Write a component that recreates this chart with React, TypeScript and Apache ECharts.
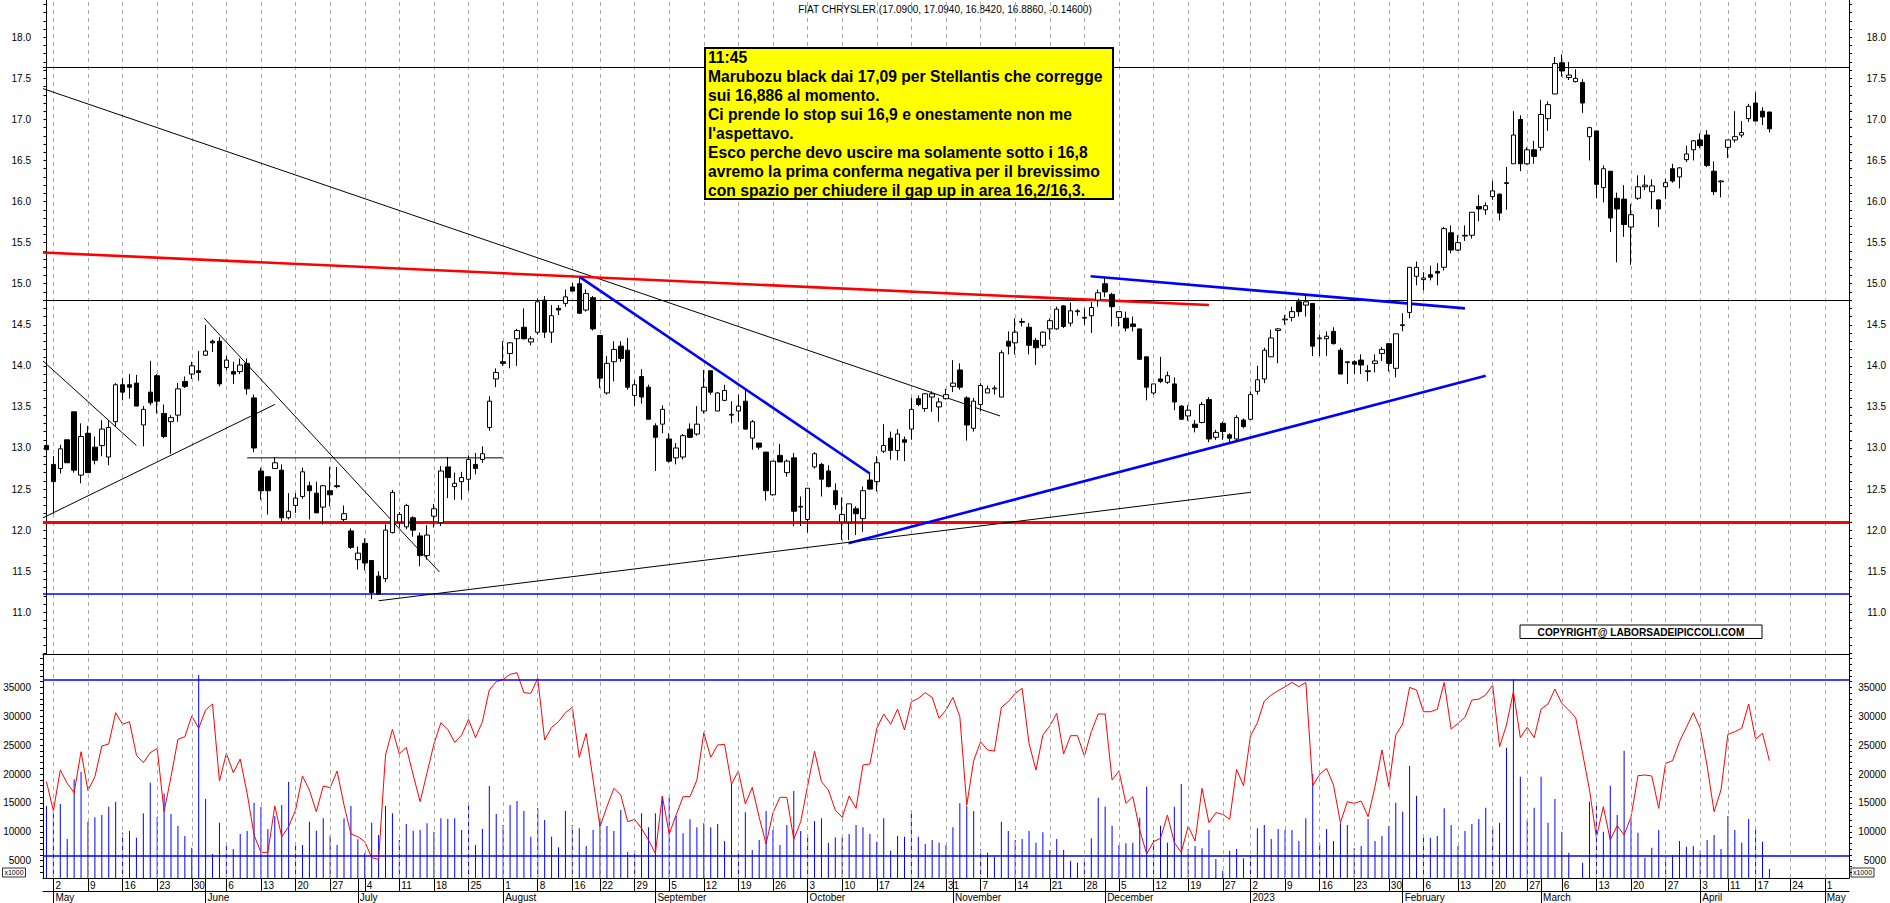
import React, { useEffect, useRef } from "react";
import * as echarts from "echarts";

// ---------- calendar ----------
const FIRST_DAY = [2022, 3, 29];
const LAST_DAY = [2023, 4, 4];
const HOLIDAYS = ["2022-08-15", "2022-12-26", "2023-04-07", "2023-04-10"];
const MONTH_NAMES = ["", "January", "February", "March", "April", "May", "June", "July", "August", "September", "October", "November", "December"];

const TITLE = "FIAT CHRYSLER (17.0900, 17.0940, 16.8420, 16.8860, -0.14600)";
const NOTE_LINES = [
  "11:45",
  "Marubozu black dai 17,09 per Stellantis che corregge",
  "sui 16,886 al momento.",
  "Ci prende lo stop sui 16,9 e onestamente non me",
  "l'aspettavo.",
  "Esco perche devo uscire ma solamente sotto i 16,8",
  "avremo la prima conferma negativa per il brevissimo",
  "con spazio per chiudere il gap up in area 16,2/16,3.",
];
const COPYRIGHT = "COPYRIGHT@ LABORSADEIPICCOLI.COM";

// ---------- price data (from 2022-04-29) ----------
const OPEN = [
  13.03, 12.80, 12.75, 13.10, 13.44, 12.67, 13.18, 13.01, 13.03, 12.89,
  13.32, 13.77, 13.77, 13.79, 13.28, 13.68, 13.88, 13.42, 13.32, 13.40,
  13.81, 13.90, 13.94, 14.13, 14.30, 14.30, 13.98, 13.93, 13.93, 14.03,
  13.61, 12.72, 12.65, 12.75, 12.73, 12.15, 12.30, 12.41, 12.54, 12.45,
  12.28, 12.48, 12.54, 12.13, 11.99, 11.64, 11.84, 11.63, 11.44, 11.41,
  11.97, 12.10, 12.04, 12.15, 11.93, 11.69, 12.17, 12.09, 12.77, 12.53,
  12.59, 12.62, 12.80, 12.86, 13.25, 13.84, 14.05, 14.15, 14.33, 14.47,
  14.29, 14.41, 14.80, 14.41, 14.70, 14.76, 14.96, 15.00, 14.68, 14.83,
  14.37, 13.67, 14.05, 14.24, 14.19, 13.64, 13.87, 13.74, 13.27, 13.29,
  13.11, 12.88, 12.89, 13.23, 13.17, 13.45, 13.94, 13.45, 13.58, 13.40,
  13.45, 13.57, 13.12, 13.06, 12.95, 12.43, 12.91, 12.70, 12.88, 12.28,
  12.13, 12.77, 12.80, 12.72, 12.48, 12.10, 12.10, 12.26, 12.14, 12.61,
  12.59, 12.96, 13.12, 12.97, 13.10, 13.23, 13.60, 13.48, 13.62, 13.50,
  13.60, 13.75, 13.95, 13.61, 13.24, 13.53, 13.67, 13.72, 13.62, 14.30,
  14.28, 14.53, 14.47, 14.31, 14.25, 14.45, 14.45, 14.73, 14.52, 14.66,
  14.58, 14.61, 14.80, 15.00, 14.87, 14.59, 14.58, 14.51, 14.45, 14.11,
  13.67, 13.84, 13.80, 13.78, 13.51, 13.39, 13.29, 13.31, 13.59, 13.13,
  13.30, 13.16, 13.11, 13.34, 13.35, 13.69, 13.84, 14.11, 14.43, 14.56,
  14.59, 14.78, 14.74, 14.76, 14.33, 14.33, 14.42, 14.19, 14.04, 14.05,
  14.07, 13.93, 14.03, 14.15, 14.27, 13.97, 14.49, 14.65, 15.09, 15.05,
  15.11, 15.15, 15.20, 15.62, 15.41, 15.58, 15.59, 15.94, 15.90, 16.06,
  16.09, 16.22, 16.46, 17.00, 16.46, 16.63, 16.66, 17.01, 17.31, 17.69,
  17.51, 17.46, 17.45, 16.79, 16.86, 16.17, 16.37, 16.04, 16.03, 15.69,
  16.04, 16.18, 16.12, 16.02, 16.18, 16.40, 16.30, 16.51, 16.63, 16.75,
  16.81, 16.37, 16.24, 16.66, 16.75, 16.81, 17.01, 17.20, 17.10, 17.09,
];
const CLOSE = [
  12.98, 12.59, 12.99, 12.82, 12.73, 13.14, 12.70, 12.85, 13.23, 13.25,
  13.77, 13.68, 13.74, 13.51, 13.47, 13.55, 13.57, 13.14, 13.37, 13.72,
  13.75, 14.00, 13.92, 14.18, 14.28, 13.78, 14.07, 13.90, 14.01, 13.72,
  13.00, 12.48, 12.48, 12.82, 12.15, 12.23, 12.39, 12.71, 12.48, 12.21,
  12.54, 12.43, 12.53, 12.20, 11.79, 11.72, 11.60, 11.24, 11.22, 12.00,
  12.46, 12.19, 12.30, 12.00, 11.69, 11.94, 12.26, 12.72, 12.64, 12.57,
  12.64, 12.86, 12.75, 12.93, 13.57, 13.92, 14.03, 14.28, 14.43, 14.33,
  14.33, 14.78, 14.41, 14.61, 14.68, 14.84, 14.91, 14.64, 14.88, 14.45,
  13.85, 14.03, 14.20, 14.09, 13.74, 13.77, 13.62, 13.35, 13.13, 13.47,
  12.84, 13.00, 13.15, 13.13, 13.29, 13.74, 13.68, 13.67, 13.70, 13.41,
  13.51, 13.23, 13.32, 13.01, 12.48, 12.84, 12.83, 12.84, 12.23, 12.29,
  12.51, 12.93, 12.62, 12.53, 12.31, 12.19, 12.32, 12.20, 12.48, 12.50,
  12.82, 13.03, 12.97, 13.17, 13.07, 13.47, 13.53, 13.66, 13.66, 13.56,
  13.65, 13.79, 13.74, 13.28, 13.57, 13.76, 13.72, 13.73, 14.16, 14.24,
  14.41, 14.54, 14.25, 14.22, 14.41, 14.55, 14.69, 14.48, 14.67, 14.67,
  14.59, 14.71, 14.89, 14.90, 14.72, 14.66, 14.46, 14.48, 14.08, 13.74,
  13.78, 13.81, 13.88, 13.56, 13.35, 13.46, 13.25, 13.53, 13.11, 13.19,
  13.20, 13.12, 13.37, 13.26, 13.65, 13.83, 14.19, 14.34, 14.45, 14.57,
  14.66, 14.66, 14.78, 14.24, 14.34, 14.36, 14.27, 13.90, 14.05, 14.02,
  14.01, 13.94, 14.06, 14.20, 14.03, 14.39, 14.50, 15.20, 15.20, 15.07,
  15.08, 15.13, 15.67, 15.41, 15.50, 15.59, 15.87, 15.91, 15.95, 16.13,
  15.86, 16.23, 16.81, 16.46, 16.63, 16.55, 17.06, 17.18, 17.68, 17.59,
  17.54, 17.50, 17.20, 16.90, 16.21, 16.40, 15.80, 15.91, 15.72, 15.84,
  16.18, 16.20, 16.19, 15.91, 16.23, 16.25, 16.41, 16.58, 16.74, 16.68,
  16.44, 16.12, 16.25, 16.75, 16.79, 16.84, 17.16, 16.98, 17.03, 16.886,
];
const LOW = [
  12.91, 12.20, 12.69, 12.82, 12.70, 12.57, 12.70, 12.80, 12.90, 12.79,
  13.26, 13.58, 13.60, 13.51, 13.02, 13.52, 13.42, 13.12, 12.93, 13.32,
  13.73, 13.84, 13.82, 14.12, 14.17, 13.75, 13.95, 13.78, 13.90, 13.65,
  12.95, 12.37, 12.19, 12.75, 12.11, 12.13, 12.21, 12.38, 12.13, 12.21,
  12.07, 12.29, 12.51, 12.11, 11.77, 11.52, 11.51, 11.16, 11.22, 11.37,
  11.96, 12.03, 12.01, 11.92, 11.56, 11.64, 12.03, 12.05, 12.39, 12.37,
  12.37, 12.48, 12.68, 12.82, 13.21, 13.74, 14.00, 13.97, 14.00, 14.32,
  14.25, 14.38, 14.34, 14.28, 14.62, 14.72, 14.91, 14.64, 14.66, 14.43,
  13.73, 13.65, 13.81, 14.05, 13.71, 13.51, 13.54, 13.35, 12.72, 13.18,
  12.82, 12.80, 12.86, 13.12, 13.15, 13.42, 13.65, 13.45, 13.57, 13.30,
  13.32, 13.22, 12.98, 12.98, 12.36, 12.42, 12.83, 12.65, 12.05, 12.05,
  11.97, 12.75, 12.41, 12.52, 12.25, 11.88, 11.88, 11.94, 11.98, 12.49,
  12.47, 12.94, 12.86, 12.85, 12.84, 13.10, 13.51, 13.44, 13.44, 13.32,
  13.59, 13.68, 13.71, 13.09, 13.20, 13.45, 13.67, 13.65, 13.62, 14.14,
  14.14, 14.48, 14.14, 14.01, 14.22, 14.32, 14.44, 14.46, 14.48, 14.61,
  14.50, 14.40, 14.72, 14.84, 14.48, 14.48, 14.42, 14.42, 14.07, 13.58,
  13.65, 13.79, 13.78, 13.46, 13.34, 13.33, 13.19, 13.30, 13.07, 13.10,
  13.10, 13.06, 13.08, 13.24, 13.34, 13.65, 13.79, 14.11, 14.03, 14.50,
  14.54, 14.60, 14.60, 14.12, 14.12, 14.12, 14.26, 13.90, 13.78, 13.90,
  13.90, 13.81, 13.92, 14.06, 13.93, 13.86, 14.42, 14.58, 14.98, 14.92,
  15.04, 14.98, 15.16, 15.37, 15.40, 15.52, 15.55, 15.76, 15.84, 16.02,
  15.77, 15.90, 16.46, 16.37, 16.45, 16.46, 16.62, 16.86, 17.31, 17.52,
  17.48, 17.45, 17.08, 16.50, 16.04, 15.99, 15.63, 15.26, 15.57, 15.23,
  16.02, 16.14, 15.91, 15.69, 16.03, 16.23, 16.16, 16.48, 16.50, 16.65,
  16.42, 16.08, 16.05, 16.53, 16.72, 16.78, 16.97, 16.98, 16.93, 16.842,
];
const HIGH = [
  13.13, 12.90, 13.04, 13.10, 13.44, 13.30, 13.27, 13.14, 13.34, 13.34,
  13.79, 13.85, 13.90, 13.89, 13.51, 14.06, 13.90, 13.53, 13.40, 13.79,
  13.87, 14.05, 14.18, 14.50, 14.32, 14.35, 14.12, 14.05, 14.09, 14.09,
  13.65, 12.76, 12.65, 12.89, 12.80, 12.45, 12.45, 12.76, 12.59, 12.59,
  12.55, 12.77, 12.77, 12.30, 12.02, 11.80, 11.90, 11.63, 11.50, 12.07,
  12.49, 12.22, 12.32, 12.17, 11.97, 12.06, 12.32, 12.78, 12.89, 12.70,
  12.71, 12.91, 12.94, 13.02, 13.63, 13.97, 14.30, 14.29, 14.45, 14.70,
  14.36, 14.82, 14.85, 14.74, 14.74, 14.93, 15.01, 15.08, 14.93, 14.85,
  14.37, 14.12, 14.30, 14.30, 14.34, 13.83, 13.96, 13.77, 13.30, 13.52,
  13.18, 13.06, 13.17, 13.30, 13.51, 13.95, 13.94, 13.68, 13.77, 13.57,
  13.65, 13.71, 13.34, 13.06, 12.95, 12.84, 13.05, 12.86, 12.94, 12.41,
  12.51, 12.95, 12.82, 12.79, 12.57, 12.40, 12.32, 12.29, 12.53, 12.69,
  12.90, 13.29, 13.20, 13.23, 13.14, 13.61, 13.64, 13.67, 13.69, 13.61,
  13.72, 14.07, 14.03, 13.63, 13.61, 13.79, 13.76, 13.76, 14.19, 14.42,
  14.58, 14.58, 14.52, 14.34, 14.42, 14.58, 14.72, 14.74, 14.77, 14.69,
  14.70, 14.78, 14.93, 15.08, 14.89, 14.66, 14.66, 14.60, 14.45, 14.11,
  13.78, 14.11, 13.93, 13.86, 13.52, 13.52, 13.34, 13.56, 13.62, 13.22,
  13.32, 13.18, 13.40, 13.36, 13.69, 14.00, 14.22, 14.44, 14.46, 14.62,
  14.72, 14.82, 14.87, 14.76, 14.38, 14.42, 14.47, 14.22, 14.05, 14.07,
  14.14, 14.01, 14.14, 14.23, 14.27, 14.39, 14.64, 15.20, 15.27, 15.14,
  15.22, 15.25, 15.69, 15.71, 15.59, 15.71, 15.87, 16.08, 15.99, 16.25,
  16.10, 16.42, 17.10, 17.05, 16.66, 16.74, 17.24, 17.22, 17.76, 17.79,
  17.70, 17.61, 17.49, 16.91, 16.86, 16.44, 16.37, 16.11, 16.20, 15.97,
  16.32, 16.32, 16.27, 16.03, 16.28, 16.46, 16.42, 16.68, 16.75, 16.83,
  16.87, 16.49, 16.26, 16.75, 17.10, 16.98, 17.19, 17.33, 17.15, 17.094,
];

// ---------- volume panel ----------
const VOLUME = [
  14460, 13770, 14800, 8750, 19080, 20400, 11750, 12500, 12900, 14350,
  15150, 9850, 10130, 8980, 13190, 18500, 12620, 16650, 13080, 11000,
  9270, 7250, 37140, 15670, 6150, 11580, 7540, 7020, 9600, 10130,
  15040, 14350, 10480, 12730, 14640, 18670, 7710, 7710, 11750, 10190,
  12330, 9330, 7710, 12330, 14460, 8690, 6270, 11580, 9440, 14460,
  13190, 8580, 11350, 10190, 10310, 11460, 10020, 12330, 12210, 12330,
  10310, 14640, 7710, 10480, 17920, 13080, 11170, 14640, 15330, 13600,
  9150, 14060, 12040, 9150, 7310, 13600, 11170, 10600, 7540, 10310,
  12330, 11000, 10130, 13770, 6500, 6500, 13190, 10770, 13190, 16190,
  15960, 12730, 9730, 12150, 10770, 11460, 10770, 11350, 8400, 18270,
  6850, 13370, 6850, 8580, 13600, 10310, 7710, 11170, 17060, 10130,
  9440, 11870, 12330, 8120, 9040, 9150, 9600, 11170, 10770, 9600,
  8290, 12330, 6730, 9270, 9150, 13770, 9150, 7890, 8580, 8120,
  7710, 10770, 14920, 14520, 13600, 6960, 6380, 5690, 11750, 10130,
  8580, 8750, 10130, 8120, 9900, 6850, 8750, 6850, 5000, 4650,
  5400, 8870, 15900, 14350, 11060, 7710, 8000, 8120, 12440, 17810,
  8580, 11060, 8120, 14350, 18270, 7020, 7540, 7130, 10310, 5290,
  3270, 6730, 7020, 5400, 5980, 10600, 11170, 8750, 10480, 10310,
  10310, 8400, 12330, 20000, 7890, 10480, 8400, 11460, 11170, 7130,
  7540, 12210, 8400, 9270, 11000, 15040, 13480, 21390, 16250, 9330,
  8980, 9270, 14060, 11170, 7540, 10130, 11350, 12210, 14170, 10890,
  11580, 24560, 36390, 19540, 12040, 14170, 19540, 11580, 15670, 10020,
  6380, null, 4650, 15210, 15040, 10020, 17980, 12900, 24040, 12040,
  9850, 5520, 7250, 10310, 5580, 5980, 8400, 7420, 7540, 6730,
  8580, 9440, 7020, 12730, 10310, 8120, 12210, 10710, 8290, 3560,
];
const OSCILLATOR = [
  18680, 13650, 20690, 18390, 16770, 23870, 17120, 19540, 24850, 25200,
  30620, 28600, 29060, 23290, 21960, 23690, 24440, 13480, 19540, 26000,
  26460, 30040, 27910, 31080, 32120, 18790, 23580, 20230, 22600, 16660,
  9440, 6440, 6440, 14460, 9150, 10890, 13770, 19660, 17230, 13480,
  17920, 17640, 20520, 14640, 9620, 9150, 8290, 5520, 5230, 23290,
  27730, 23460, 24620, 19830, 15210, 20230, 25200, 28890, 27730, 25480,
  26750, 29460, 26290, 29060, 34540, 35980, 36390, 37250, 37540, 34080,
  33970, 36560, 25890, 28080, 29060, 30620, 31540, 22890, 27040, 18960,
  10890, 14350, 17520, 16370, 11750, 12150, 10600, 8580, 6270, 16190,
  9620, 12900, 16080, 16080, 18960, 27160, 22890, 25030, 25140, 18270,
  20520, 14810, 17690, 12500, 7890, 13310, 15960, 15960, 8690, 11750,
  17920, 23980, 18680, 17230, 13770, 12500, 16190, 14060, 21560, 21730,
  27910, 30390, 28600, 31250, 27620, 32520, 33100, 34080, 33270, 29640,
  31080, 33270, 29930, 14640, 22310, 25600, 24160, 23980, 31540, 32520,
  33970, 34830, 25310, 20690, 26750, 28310, 30500, 23460, 26640, 26640,
  23120, 27330, 30390, 30390, 18960, 20520, 14920, 16080, 10310, 6150,
  8290, 8870, 12900, 8120, 6440, 11000, 8400, 17520, 11580, 13310,
  13020, 12150, 20810, 17980, 26580, 28890, 32640, 33680, 34430, 35120,
  35870, 35120, 35870, 17980, 19940, 20980, 18100, 11580, 15210, 14920,
  15330, 12620, 17810, 24160, 17810, 26750, 28660, 35000, 34540, 30790,
  30790, 31200, 35870, 27790, 28770, 29810, 32810, 32980, 33680, 35410,
  24730, 28490, 34250, 26290, 28080, 26290, 31250, 32120, 34710, 32230,
  31080, 29750, 23580, 17230, 9040, 14350, 8580, 11060, 9440, 12620,
  19710, 19830, 19660, 14060, 21850, 22310, 25600, 28080, 30620, 27910,
  21390, 13480, 17230, 26870, 27330, 27910, 32120, 26060, 27040, 22310,
];

// ---------- annotations (x in trading-day index, y in price) ----------
const PRICE_LEVELS = [
  { value: 17.63, color: "#000000", width: 1.2 },
  { value: 14.8, color: "#000000", width: 1.2 },
  { value: 12.09, color: "#ff0000", width: 3 },
  { value: 11.22, color: "#0000ff", width: 1.5 },
];
const VOLUME_LEVELS = [36400, 5920];
const TRENDLINES = [
  { from: [-0.5, 17.375], to: [137.8, 13.39], color: "#000000", width: 1 },
  { from: [-0.5, 15.38], to: [168, 14.74], color: "#ff0000", width: 2.6 },
  { from: [77.1, 15.08], to: [119, 12.69], color: "#0000ff", width: 2.6 },
  { from: [150.9, 15.09], to: [205, 14.7], color: "#0000ff", width: 2.6 },
  { from: [115.9, 11.84], to: [208, 13.88], color: "#0000ff", width: 2.6 },
  { from: [48, 11.14], to: [174, 12.46], color: "#000000", width: 1 },
  { from: [29, 12.88], to: [66, 12.88], color: "#000000", width: 1 },
  { from: [22.8, 14.58], to: [56.8, 11.49], color: "#000000", width: 1 },
  { from: [-0.5, 14.06], to: [13, 13.03], color: "#000000", width: 1 },
  { from: [-0.5, 12.15], to: [33, 13.53], color: "#000000", width: 1 },
];
const PRICE_LABELS = [11, 11.5, 12, 12.5, 13, 13.5, 14, 14.5, 15, 15.5, 16, 16.5, 17, 17.5, 18];
const VOLUME_LABELS = [5000, 10000, 15000, 20000, 25000, 30000, 35000];

function buildDays(): string[] {
  const out: string[] = [];
  const start = Date.UTC(FIRST_DAY[0], FIRST_DAY[1], FIRST_DAY[2]);
  const end = Date.UTC(LAST_DAY[0], LAST_DAY[1], LAST_DAY[2]);
  for (let t = start; t <= end; t += 86400000) {
    const d = new Date(t);
    const wd = d.getUTCDay();
    if (wd === 0 || wd === 6) continue;
    const s = d.toISOString().slice(0, 10);
    if (HOLIDAYS.includes(s)) continue;
    out.push(s);
  }
  return out;
}

const FONT = "'Liberation Sans', Arial, sans-serif";

export default function App() {
  const ref = useRef<HTMLDivElement>(null);

  useEffect(() => {
    document.body.style.margin = "0";
    const el = ref.current!;
    const chart = echarts.init(el, undefined, { renderer: "svg" });

    const cats = buildDays();
    const weekKey = (s: string) => Math.floor((Date.parse(s + "T00:00:00Z") / 86400000 + 3) / 7);
    const isWeek = cats.map((s, i) => i > 0 && weekKey(s) !== weekKey(cats[i - 1]));
    const isMonth = cats.map((s, i) => i > 0 && s.slice(5, 7) !== cats[i - 1].slice(5, 7));
    const weekCats = cats.filter((_, i) => isWeek[i]);

    const candles = OPEN.map((o, i) => [o, CLOSE[i], LOW[i], HIGH[i]]);

    const minorPriceTicks: number[] = [];
    for (let v = 105; v <= 184; v++) minorPriceTicks.push(v / 10);
    const minorVolTicks: number[] = [];
    for (let v = 3; v <= 40; v++) minorVolTicks.push(v * 1000);

    const gridLineStyle = { color: "#a9a9a9", width: 1, type: [4, 4] as any };
    const vLines = weekCats.map((c) => ({ xAxis: c, lineStyle: gridLineStyle }));

    const axisText = { color: "#000", fontSize: 10, fontFamily: FONT };

    const priceY = (pos: "left" | "right") => ({
      type: "value",
      gridIndex: 0,
      position: pos,
      min: 10.492,
      max: 18.454,
      axisLine: { show: true, lineStyle: { color: "#000", width: 1 } },
      axisTick: { show: true, length: 3, customValues: minorPriceTicks, lineStyle: { color: "#000" } },
      axisLabel: {
        ...axisText,
        customValues: PRICE_LABELS,
        formatter: (v: number) => v.toFixed(1),
        margin: pos === "left" ? 12 : 37,
        align: "right",
      },
      splitLine: { show: false },
    });
    const volY = (pos: "left" | "right") => ({
      type: "value",
      gridIndex: 1,
      position: pos,
      min: 2000,
      max: 40780,
      axisLine: { show: true, lineStyle: { color: "#000", width: 1 } },
      axisTick: { show: true, length: 3, customValues: minorVolTicks, lineStyle: { color: "#000" } },
      axisLabel: {
        ...axisText,
        customValues: VOLUME_LABELS,
        formatter: (v: number) => String(v),
        margin: pos === "left" ? 12 : 37,
        align: "right",
      },
      splitLine: { show: false },
    });

    const trendSeries = TRENDLINES.map((t) => ({
      type: "line",
      xAxisIndex: 3,
      yAxisIndex: 0,
      data: [t.from, t.to],
      symbol: "none",
      silent: true,
      lineStyle: { color: t.color, width: t.width },
      z: 4,
    }));

    const option: any = {
      animation: false,
      backgroundColor: "#ffffff",
      grid: [
        { left: 43, right: 41, top: 0, height: 654 },
        { left: 43, right: 41, top: 654, height: 224 },
      ],
      xAxis: [
        {
          type: "category",
          gridIndex: 0,
          data: cats,
          boundaryGap: true,
          axisLine: { show: true, onZero: false, lineStyle: { color: "#000", width: 1.2 } },
          axisTick: { show: false },
          axisLabel: { show: false },
          splitLine: { show: false },
        },
        {
          type: "category",
          gridIndex: 1,
          data: cats,
          boundaryGap: true,
          position: "bottom",
          axisLine: { show: true, onZero: false, lineStyle: { color: "#000", width: 1.2 } },
          axisTick: {
            show: true,
            alignWithLabel: true,
            length: 13,
            interval: (i: number) => isWeek[i] || isMonth[i],
            lineStyle: { color: "#000" },
          },
          axisLabel: {
            ...axisText,
            interval: (i: number) => isWeek[i],
            formatter: (v: string) => String(Number(v.slice(8, 10))),
            align: "left",
            padding: [0, 0, 0, 2],
            margin: 2,
          },
          splitLine: { show: false },
        },
        {
          type: "category",
          gridIndex: 1,
          data: cats,
          boundaryGap: true,
          position: "bottom",
          offset: 13,
          axisLine: { show: true, onZero: false, lineStyle: { color: "#000", width: 1.2 } },
          axisTick: {
            show: true,
            alignWithLabel: true,
            length: 12,
            interval: (i: number) => isMonth[i],
            lineStyle: { color: "#000" },
          },
          axisLabel: {
            ...axisText,
            interval: (i: number) => isMonth[i],
            formatter: (v: string) => {
              const m = Number(v.slice(5, 7));
              return m === 1 ? v.slice(0, 4) : MONTH_NAMES[m];
            },
            align: "left",
            padding: [0, 0, 0, 2],
            margin: 1,
          },
          splitLine: { show: false },
        },
        { type: "value", gridIndex: 0, min: -0.5, max: cats.length - 0.5, show: false },
      ],
      yAxis: [priceY("left"), priceY("right"), volY("left"), volY("right")],
      series: [
        {
          type: "candlestick",
          name: "FIAT CHRYSLER",
          xAxisIndex: 0,
          yAxisIndex: 0,
          data: candles,
          barWidth: 5,
          itemStyle: {
            color: "#ffffff",
            color0: "#000000",
            borderColor: "#000000",
            borderColor0: "#000000",
            borderColorDoji: "#000000",
            borderWidth: 1,
          },
          z: 5,
          markLine: {
            silent: true,
            symbol: ["none", "none"],
            label: { show: false },
            z: 1,
            data: [
              ...vLines,
              ...PRICE_LEVELS.map((l) => ({ yAxis: l.value, lineStyle: { color: l.color, width: l.width, type: "solid" } })),
            ],
          },
        },
        ...trendSeries,
        {
          type: "bar",
          name: "Volume",
          xAxisIndex: 1,
          yAxisIndex: 2,
          data: VOLUME,
          barWidth: 1,
          itemStyle: { color: "#0000ff" },
          z: 3,
          markLine: {
            silent: true,
            symbol: ["none", "none"],
            label: { show: false },
            data: [
              ...vLines,
              ...VOLUME_LEVELS.map((v) => ({ yAxis: v, lineStyle: { color: "#0000ff", width: 1.5, type: "solid" } })),
            ],
          },
        },
        {
          type: "line",
          name: "Oscillator",
          xAxisIndex: 1,
          yAxisIndex: 2,
          data: OSCILLATOR,
          symbol: "none",
          lineStyle: { color: "#ff0000", width: 1 },
          z: 4,
        },
      ],
      graphic: [
        {
          type: "text",
          x: 945,
          y: 4,
          style: { text: TITLE, fill: "#000", font: `10px ${FONT}`, align: "center", verticalAlign: "top" },
        },
        {
          type: "rect",
          shape: { x: 705, y: 48, width: 408, height: 151 },
          style: { fill: "#ffff00", stroke: "#000", lineWidth: 2 },
          z: 100,
        },
        {
          type: "text",
          x: 708,
          y: 48.5,
          scaleX: 0.98,
          z: 101,
          style: {
            text: NOTE_LINES.join("\n"),
            fill: "#000",
            font: `bold 16px ${FONT}`,
            lineHeight: 18.9,
            verticalAlign: "top",
          },
        },
        {
          type: "rect",
          shape: { x: 1520, y: 625, width: 242, height: 13.5 },
          style: { fill: "#ffffff", stroke: "#000", lineWidth: 1 },
          z: 100,
        },
        {
          type: "text",
          x: 1641,
          y: 632,
          scaleX: 0.92,
          z: 101,
          style: { text: COPYRIGHT, fill: "#000", font: `bold 11px ${FONT}`, align: "center", verticalAlign: "middle" },
        },
        {
          type: "rect",
          shape: { x: 2.5, y: 868, width: 23, height: 9 },
          style: { fill: "#fff", stroke: "#000", lineWidth: 0.8 },
        },
        {
          type: "text",
          x: 14,
          y: 872.5,
          style: { text: "x1000", fill: "#000", font: `7px ${FONT}`, align: "center", verticalAlign: "middle" },
        },
        {
          type: "rect",
          shape: { x: 1851, y: 868, width: 23, height: 9 },
          style: { fill: "#fff", stroke: "#000", lineWidth: 0.8 },
        },
        {
          type: "text",
          x: 1862.5,
          y: 872.5,
          style: { text: "x1000", fill: "#000", font: `7px ${FONT}`, align: "center", verticalAlign: "middle" },
        },
      ],
    };

    chart.setOption(option);
    return () => chart.dispose();
  }, []);

  return <div ref={ref} style={{ width: 1890, height: 903, background: "#fff" }} />;
}
